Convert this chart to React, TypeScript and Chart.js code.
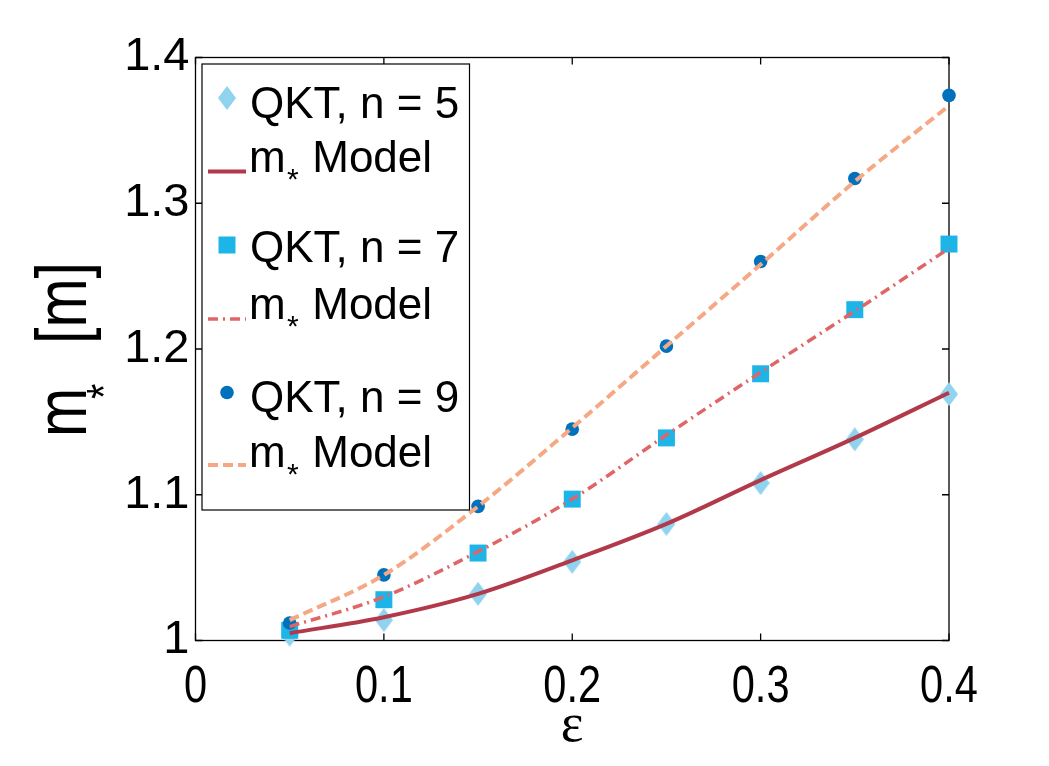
import { useEffect, useRef } from 'react';
import { Chart, registerables } from 'chart.js';

Chart.register(...registerables);

// valores
const EPS = [0.05, 0.1, 0.15, 0.2, 0.25, 0.3, 0.35, 0.4];
const QKT_N5 = [1.004, 1.014, 1.032, 1.054, 1.080, 1.108, 1.138, 1.169];
const MODEL_N5 = [1.005, 1.016, 1.032, 1.055, 1.080, 1.110, 1.139, 1.170];
const QKT_N7 = [1.007, 1.028, 1.060, 1.097, 1.139, 1.183, 1.227, 1.272];
const MODEL_N7 = [1.0095, 1.030, 1.061, 1.097, 1.141, 1.184, 1.226, 1.269];
const QKT_N9 = [1.012, 1.045, 1.092, 1.145, 1.202, 1.260, 1.317, 1.374];
const MODEL_N9 = [1.014, 1.045, 1.092, 1.146, 1.202, 1.258, 1.315, 1.367];

const X_TICKS = [0, 0.1, 0.2, 0.3, 0.4];
const Y_TICKS = [1, 1.1, 1.2, 1.3, 1.4];

const QKT_LABELS = ['QKT, n = 5', 'QKT, n = 7', 'QKT, n = 9'];
const MODEL_LABEL = ['m', '*', ' Model'];
const Y_TITLE = ['m', '*', '[m]'];
const X_TITLE = 'ε';

const C_DIAMOND = '#8fd3ee';
const C_SQUARE = '#1db5e7';
const C_CIRCLE = '#0071bc';
const C_SOLID = '#b2394a';
const C_DASHDOT = '#e06567';
const C_DASHED = '#f5a883';

const SANS = '"Liberation Sans", Arial, sans-serif';
const TICK = 7;

const toXY = (ys: number[]) => EPS.map((x, i) => ({ x, y: ys[i] }));
const fmtX = (v: number) => (v === 0 ? '0' : v.toFixed(1));
const fmtY = (v: number) => (v === 1 ? '1' : v.toFixed(1));

function makeDiamond(): HTMLCanvasElement {
    const c = document.createElement('canvas');
    c.width = 18;
    c.height = 24;
    const g = c.getContext('2d')!;
    g.fillStyle = C_DIAMOND;
    g.beginPath();
    g.moveTo(9, 0);
    g.lineTo(18, 12);
    g.lineTo(9, 24);
    g.lineTo(0, 12);
    g.closePath();
    g.fill();
    return c;
}

const framePlugin = {
    id: 'frame',
    beforeDatasetsDraw(chart: any) {
        const { ctx, chartArea: a, scales } = chart;
        ctx.save();
        ctx.strokeStyle = '#000';
        ctx.lineWidth = 1.3;
        ctx.strokeRect(a.left, a.top, a.right - a.left, a.bottom - a.top);
        ctx.beginPath();
        X_TICKS.forEach((v) => {
            const px = scales.x.getPixelForValue(v);
            ctx.moveTo(px, a.bottom);
            ctx.lineTo(px, a.bottom - TICK);
            ctx.moveTo(px, a.top);
            ctx.lineTo(px, a.top + TICK);
        });
        Y_TICKS.forEach((v) => {
            const py = scales.y.getPixelForValue(v);
            ctx.moveTo(a.left, py);
            ctx.lineTo(a.left + TICK, py);
            ctx.moveTo(a.right, py);
            ctx.lineTo(a.right - TICK, py);
        });
        ctx.stroke();
        ctx.restore();
    },
};

function drawModelText(ctx: CanvasRenderingContext2D, x: number, base: number) {
    ctx.font = `44px ${SANS}`;
    ctx.fillText(MODEL_LABEL[0], x, base);
    ctx.font = `30px ${SANS}`;
    ctx.fillText(MODEL_LABEL[1], x + 38, base + 16.5);
    ctx.font = `44px ${SANS}`;
    ctx.fillText(MODEL_LABEL[2], x + 51, base);
}

function drawSample(ctx: CanvasRenderingContext2D, y: number, color: string, dash: number[], width: number) {
    ctx.save();
    ctx.strokeStyle = color;
    ctx.lineWidth = width;
    ctx.setLineDash(dash);
    ctx.beginPath();
    ctx.moveTo(208, y);
    ctx.lineTo(246, y);
    ctx.stroke();
    ctx.restore();
}

function makeOverlay(diamond: HTMLCanvasElement) {
    return {
        id: 'overlay',
        afterDraw(chart: any) {
            const ctx: CanvasRenderingContext2D = chart.ctx;
            ctx.save();

            // etiquetas del eje x (estrechas, como en la figura)
            const xs = chart.scales.x;
            ctx.fillStyle = '#000';
            ctx.font = `52px ${SANS}`;
            ctx.textAlign = 'center';
            ctx.textBaseline = 'alphabetic';
            xs.ticks.forEach((t: any) => {
                ctx.save();
                ctx.translate(xs.getPixelForValue(t.value), 702);
                ctx.scale(0.8, 1);
                ctx.fillText(fmtX(t.value), 0, 0);
                ctx.restore();
            });

            // leyenda
            ctx.textAlign = 'left';
            ctx.fillStyle = '#fff';
            ctx.fillRect(202, 64, 267.5, 446);
            ctx.strokeStyle = '#000';
            ctx.lineWidth = 1.2;
            ctx.strokeRect(202, 64, 267.5, 446);

            ctx.drawImage(diamond, 227 - 9, 98 - 12);
            ctx.font = `44px ${SANS}`;
            ctx.fillStyle = '#000';
            ctx.fillText(QKT_LABELS[0], 250, 118);
            drawSample(ctx, 171.5, C_SOLID, [], 4);
            drawModelText(ctx, 249, 172);

            ctx.fillStyle = C_SQUARE;
            ctx.fillRect(227 - 8.5, 245 - 8.5, 17, 17);
            ctx.fillStyle = '#000';
            ctx.font = `44px ${SANS}`;
            ctx.fillText(QKT_LABELS[1], 250, 262);
            drawSample(ctx, 319, C_DASHDOT, [10, 5, 2, 5], 3.5);
            drawModelText(ctx, 249, 319);

            ctx.fillStyle = C_CIRCLE;
            ctx.beginPath();
            ctx.arc(227, 392.5, 6.8, 0, Math.PI * 2);
            ctx.fill();
            ctx.fillStyle = '#000';
            ctx.font = `44px ${SANS}`;
            ctx.fillText(QKT_LABELS[2], 250, 412);
            drawSample(ctx, 465, C_DASHED, [10, 5], 4);
            drawModelText(ctx, 249, 467);

            // título eje x
            ctx.font = `54px "Liberation Serif", serif`;
            ctx.textAlign = 'center';
            ctx.fillText(X_TITLE, 572, 741);

            // título eje y
            ctx.textAlign = 'left';
            ctx.translate(86, 434);
            ctx.rotate(-Math.PI / 2);
            ctx.scale(0.82, 1);
            ctx.font = `72px ${SANS}`;
            ctx.fillText(Y_TITLE[0], -3 / 0.82, 0);
            ctx.font = `48px ${SANS}`;
            ctx.fillText(Y_TITLE[1], 35 / 0.82, 34);
            ctx.font = `72px ${SANS}`;
            ctx.fillText(Y_TITLE[2], 90 / 0.82, 0);
            ctx.restore();
        },
    };
}

export default function App() {
    const canvasRef = useRef<HTMLCanvasElement>(null);

    useEffect(() => {
        document.body.style.margin = '0';
        if (!canvasRef.current) return;
        const diamond = makeDiamond();

        const chart = new Chart(canvasRef.current, {
            type: 'line',
            data: {
                datasets: [
                    {
                        label: 'm* Model n=9', data: toXY(MODEL_N9), order: 0,
                        borderColor: C_DASHED, borderWidth: 4, borderDash: [10, 5],
                        pointRadius: 0, cubicInterpolationMode: 'monotone', clip: false,
                    },
                    {
                        label: 'm* Model n=7', data: toXY(MODEL_N7), order: 0,
                        borderColor: C_DASHDOT, borderWidth: 3.5, borderDash: [10, 5, 2, 5],
                        pointRadius: 0, cubicInterpolationMode: 'monotone', clip: false,
                    },
                    {
                        label: 'm* Model n=5', data: toXY(MODEL_N5), order: 0,
                        borderColor: C_SOLID, borderWidth: 4,
                        pointRadius: 0, cubicInterpolationMode: 'monotone', clip: false,
                    },
                    {
                        label: QKT_LABELS[2], data: toXY(QKT_N9), order: 1, showLine: false,
                        pointStyle: 'circle', pointRadius: 6.8, pointBorderWidth: 0,
                        pointBackgroundColor: C_CIRCLE, clip: false,
                    },
                    {
                        label: QKT_LABELS[1], data: toXY(QKT_N7), order: 1, showLine: false,
                        pointStyle: 'rect', pointRadius: 12, pointBorderWidth: 0,
                        pointBackgroundColor: C_SQUARE, clip: false,
                    },
                    {
                        label: QKT_LABELS[0], data: toXY(QKT_N5), order: 1, showLine: false,
                        pointStyle: diamond, pointRadius: 12, pointBorderWidth: 0,
                        pointBackgroundColor: C_DIAMOND, clip: false,
                    },
                ] as any,
            },
            options: {
                animation: false,
                responsive: true,
                maintainAspectRatio: false,
                layout: { padding: { top: 57.5, right: 100, left: 0, bottom: 0 } },
                scales: {
                    x: {
                        type: 'linear', min: 0, max: 0.4,
                        afterBuildTicks: (s: any) => { s.ticks = X_TICKS.map((value) => ({ value })); },
                        afterFit: (s: any) => { s.height = 125.5; },
                        grid: { display: false, drawTicks: false },
                        border: { display: false },
                        ticks: { display: false },
                    },
                    y: {
                        type: 'linear', min: 1, max: 1.4,
                        afterBuildTicks: (s: any) => { s.ticks = Y_TICKS.map((value) => ({ value })); },
                        afterFit: (s: any) => { s.width = 195.5; },
                        grid: { display: false, drawTicks: false },
                        border: { display: false },
                        ticks: {
                            color: '#000', padding: 6, autoSkip: false,
                            font: { family: SANS, size: 47 },
                            callback: (v: any) => fmtY(Number(v)),
                        },
                    },
                },
                plugins: {
                    legend: { display: false },
                    tooltip: { enabled: false },
                },
            },
            plugins: [framePlugin, makeOverlay(diamond)],
        });

        return () => {
            chart.destroy();
        };
    }, []);

    return (
        <div style={{ position: 'absolute', left: 0, top: 0, width: 1049, height: 766, background: '#fff' }}>
            <canvas ref={canvasRef} />
        </div>
    );
}
